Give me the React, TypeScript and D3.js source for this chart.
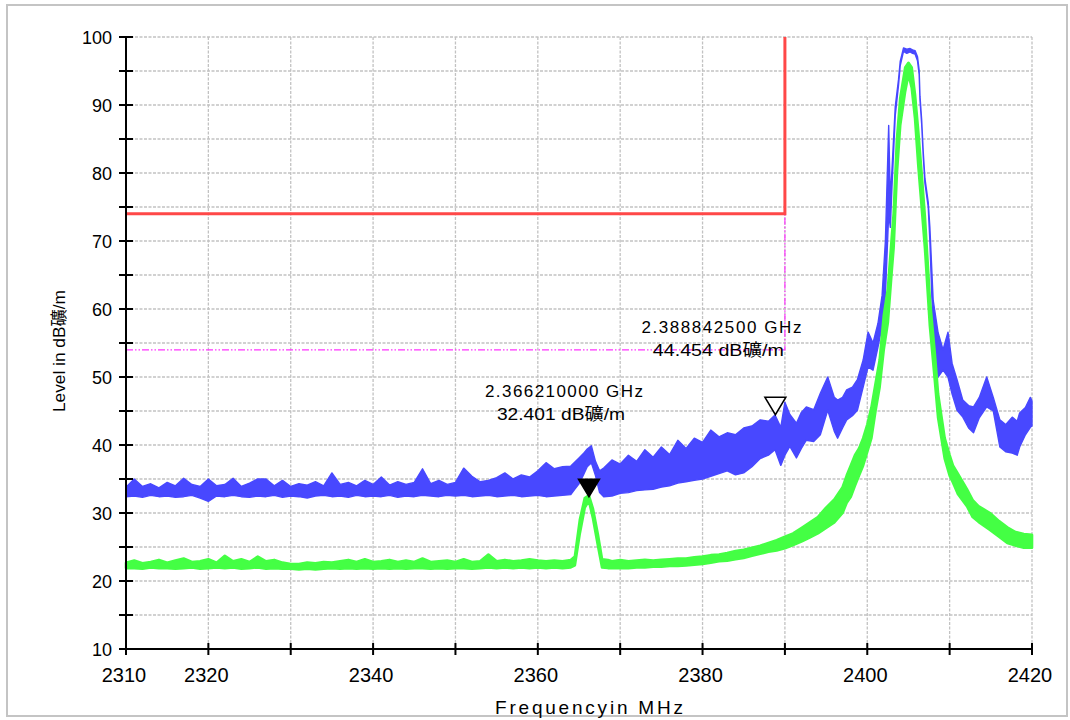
import React from "react";
import * as d3 from "d3";

// ---- data ----
const xDomain = [2310, 2420];
const yDomain = [10, 100];
const xTicks = [2310, 2320, 2330, 2340, 2350, 2360, 2370, 2380, 2390, 2400, 2410, 2420];
const xTickLabels = [2310, 2320, 2340, 2360, 2380, 2400, 2420];
const yTicks = [10, 15, 20, 25, 30, 35, 40, 45, 50, 55, 60, 65, 70, 75, 80, 85, 90, 95, 100];
const yTickLabels = [10, 20, 30, 40, 50, 60, 70, 80, 90, 100];

// limit line (red) and display line (magenta): [freq MHz, level]
const limitLine: [number, number][] = [[2310, 74], [2390, 74], [2390, 100]];
const displayLine: [number, number][] = [[2310, 54], [2390, 54], [2390, 74]];

// markers: [freq MHz, level, filled]
const markers: { f: number; v: number; filled: boolean; l1: string; l2: string }[] = [
  { f: 2366.21, v: 32.401, filled: true, l1: "2.366210000 GHz", l2: "32.401 dB礦/m" },
  { f: 2388.8425, v: 44.454, filled: false, l1: "2.388842500 GHz", l2: "44.454 dB礦/m" },
];

// peak trace (blue): [freq MHz, low, high] of the noise band
const blueTrace: [number, number, number][] = [
  [2310, 32.4, 33.8], [2311, 32.5, 35.0], [2312, 32.3, 33.9], [2313, 32.6, 34.3], [2314, 32.4, 33.7],
  [2315, 32.5, 34.5], [2316, 32.3, 34.0], [2317, 32.4, 35.1], [2318, 32.6, 34.2], [2319, 32.2, 33.9],
  [2320, 31.7, 35.0], [2321, 32.5, 34.0], [2322, 32.4, 34.2], [2323, 32.6, 35.1], [2324, 32.4, 33.9],
  [2325, 32.3, 34.4], [2326, 32.5, 35.0], [2327, 32.4, 35.0], [2328, 32.6, 34.0], [2329, 32.3, 34.8],
  [2330, 32.5, 33.9], [2331, 32.4, 34.3], [2332, 32.2, 34.1], [2333, 32.5, 34.6], [2334, 32.6, 34.0],
  [2335, 32.4, 35.9], [2336, 32.5, 34.2], [2337, 32.3, 34.5], [2338, 32.6, 34.0], [2339, 32.4, 34.8],
  [2340, 32.5, 34.2], [2341, 32.4, 35.3], [2342, 32.6, 34.1], [2343, 32.3, 34.6], [2344, 32.5, 34.2],
  [2345, 32.4, 34.5], [2346, 32.6, 36.5], [2347, 32.5, 34.3], [2348, 32.4, 34.8], [2349, 32.6, 34.2],
  [2350, 32.5, 34.5], [2351, 32.6, 36.6], [2352, 32.4, 35.4], [2353, 32.5, 34.6], [2354, 32.6, 34.8],
  [2355, 32.4, 35.2], [2356, 32.5, 35.9], [2357, 32.6, 35.0], [2358, 32.4, 35.6], [2359, 32.5, 35.3],
  [2360, 32.6, 36.2], [2361, 32.4, 37.4], [2362, 32.5, 36.5], [2363, 32.6, 36.8], [2364, 32.7, 36.9],
  [2364.5, 33.5, 37.5], [2365, 34.3, 38.1], [2365.5, 35.5, 38.7], [2366, 36.8, 39.4], [2366.5, 37.4, 39.9],
  [2367, 35.5, 37.6], [2367.5, 33.0, 36.2], [2368, 32.4, 36.6], [2369, 32.5, 37.8], [2370, 32.9, 37.2],
  [2371, 33.0, 38.5], [2372, 33.3, 37.6], [2373, 33.4, 39.3], [2374, 33.5, 38.2], [2375, 33.8, 39.7],
  [2376, 34.0, 38.6], [2377, 34.4, 40.7], [2378, 34.6, 39.5], [2379, 34.8, 41.0], [2380, 35.0, 40.4],
  [2381, 35.4, 42.2], [2382, 35.8, 41.2], [2383, 36.2, 41.8], [2384, 35.6, 41.5], [2385, 35.9, 42.5],
  [2386, 36.8, 42.8], [2387, 38.0, 43.7], [2388, 38.5, 43.5], [2388.8, 39.3, 44.4], [2389.5, 37.0, 42.6],
  [2390, 38.5, 46.3], [2390.6, 39.8, 44.5], [2391.4, 38.1, 43.2], [2392, 39.5, 44.8], [2392.6, 40.7, 45.6],
  [2393.5, 40.5, 45.2], [2394.3, 41.5, 47.6], [2395.2, 45.1, 50.0], [2396, 42.0, 47.0], [2396.4, 41.0, 46.6],
  [2397, 42.5, 47.0], [2397.5, 43.7, 48.1], [2398.2, 44.3, 48.5], [2398.8, 45.1, 49.6], [2399.5, 48.5, 52.5],
  [2400.1, 51.5, 56.6], [2400.7, 51.0, 55.0], [2401.3, 54.4, 57.9], [2401.8, 57.5, 62.0], [2402.2, 62.0, 70.0],
  [2402.6, 74.0, 87.0], [2402.8, 72.0, 76.0], [2403.0, 78.0, 80.5], [2403.4, 88.5, 89.8], [2403.8, 93.0, 93.8],
  [2404.0, 95.8, 96.4], [2404.4, 97.9, 98.4], [2404.8, 97.6, 98.2], [2405.2, 97.8, 98.3], [2405.5, 97.6, 98.1],
  [2405.8, 97.5, 98.0], [2406.1, 96.5, 97.1], [2406.3, 94.5, 95.1], [2406.4, 90.7, 91.3], [2406.6, 87.3, 87.9],
  [2406.8, 82.4, 83.0], [2407.0, 78.5, 79.2], [2407.4, 75.0, 75.7], [2407.6, 70.0, 72.0], [2408.0, 56.5, 61.3],
  [2408.6, 50.0, 56.5], [2409.2, 51.0, 54.0], [2409.8, 50.0, 56.6], [2410.3, 47.5, 52.0], [2410.9, 45.1, 49.6],
  [2411.6, 44.1, 46.6], [2412.3, 42.5, 45.8], [2412.9, 41.8, 45.6], [2413.6, 44.0, 47.0], [2414.5, 45.6, 50.0],
  [2415.3, 45.0, 47.0], [2416.1, 39.7, 43.7], [2416.8, 39.0, 43.0], [2417.6, 38.8, 44.1], [2418.2, 38.5, 43.5],
  [2418.5, 39.7, 44.7], [2419.2, 41.5, 45.5], [2419.8, 42.6, 47.0], [2420, 42.8, 46.5],
];

// average trace (green): [freq MHz, low, high]
const greenTrace: [number, number, number][] = [
  [2310, 21.9, 22.7], [2311, 21.9, 23.0], [2312, 21.8, 22.6], [2313, 22.0, 22.8], [2314, 21.9, 23.1],
  [2315, 21.9, 22.7], [2316, 21.8, 23.0], [2317, 21.9, 23.3], [2318, 22.0, 22.8], [2319, 21.8, 22.9],
  [2320, 21.9, 23.2], [2321, 22.0, 22.7], [2322, 21.9, 23.7], [2323, 22.0, 22.9], [2324, 21.8, 23.2],
  [2325, 21.9, 22.8], [2326, 22.0, 23.6], [2327, 21.8, 22.9], [2328, 21.9, 23.1], [2329, 21.8, 22.7],
  [2330, 21.8, 22.5], [2331, 21.7, 22.5], [2332, 21.8, 22.7], [2333, 21.7, 22.6], [2334, 21.8, 22.8],
  [2335, 21.9, 22.7], [2336, 21.8, 22.9], [2337, 21.9, 23.1], [2338, 21.8, 22.8], [2339, 21.9, 23.2],
  [2340, 21.8, 22.8], [2341, 21.9, 22.9], [2342, 21.8, 23.1], [2343, 21.9, 22.8], [2344, 21.8, 23.0],
  [2345, 21.9, 22.8], [2346, 21.9, 23.3], [2347, 21.8, 22.8], [2348, 21.9, 22.9], [2349, 21.8, 23.0],
  [2350, 21.9, 22.8], [2351, 21.9, 23.2], [2352, 21.8, 22.8], [2353, 21.9, 22.9], [2354, 22.0, 23.9],
  [2355, 21.9, 22.9], [2356, 22.0, 23.1], [2357, 21.9, 22.9], [2358, 22.0, 23.0], [2359, 21.9, 23.2],
  [2360, 22.0, 23.0], [2361, 21.9, 22.9], [2362, 22.0, 23.0], [2363, 21.9, 22.9], [2364, 22.0, 23.1],
  [2364.5, 22.3, 23.6], [2365.1, 27.0, 29.0], [2365.7, 30.8, 32.2], [2366.2, 31.8, 32.6], [2366.7, 29.2, 30.6],
  [2367.3, 25.2, 26.8], [2367.8, 22.0, 23.2], [2368.5, 21.9, 23.1], [2369, 21.9, 22.9], [2370, 21.9, 23.1],
  [2371, 21.9, 22.9], [2372, 22.0, 23.0], [2373, 22.0, 23.1], [2374, 22.1, 23.0], [2375, 22.1, 23.1],
  [2376, 22.2, 23.2], [2377, 22.2, 23.3], [2378, 22.3, 23.3], [2379, 22.4, 23.5], [2380, 22.5, 23.6],
  [2381, 22.7, 23.8], [2382, 22.9, 23.9], [2383, 23.0, 24.1], [2384, 23.2, 24.4], [2385, 23.4, 24.6],
  [2386, 23.7, 24.9], [2387, 24.0, 25.2], [2388, 24.3, 25.6], [2389, 24.5, 26.0], [2390, 24.8, 26.5],
  [2391, 25.3, 27.0], [2392, 25.8, 27.8], [2393, 26.4, 28.6], [2394, 27.0, 29.4], [2395, 27.8, 30.8],
  [2396, 28.6, 32.0], [2397, 30.0, 33.8], [2397.5, 31.5, 35.5], [2398, 32.4, 37.0], [2398.5, 34.0, 38.5],
  [2399, 35.5, 39.5], [2399.5, 37.0, 41.0], [2400, 39.0, 43.0], [2400.5, 41.0, 45.5], [2401, 45.0, 49.0],
  [2401.5, 48.5, 52.5], [2402, 54.0, 59.0], [2402.5, 58.0, 63.0], [2403, 66.0, 71.0], [2403.2, 69.0, 74.0],
  [2403.6, 80.0, 85.0], [2404, 87.0, 91.0], [2404.6, 92.0, 95.5], [2405, 94.5, 96.2], [2405.4, 92.5, 95.5],
  [2405.8, 88.0, 91.5], [2406.2, 81.0, 86.0], [2406.6, 75.0, 80.0], [2407, 69.0, 73.5], [2407.6, 57.5, 61.5],
  [2408.2, 49.5, 53.5], [2408.6, 44.0, 47.5], [2409.4, 38.0, 41.0], [2410, 35.5, 38.5], [2410.4, 34.5, 37.0],
  [2411, 32.8, 35.8], [2412.1, 31.0, 33.5], [2412.8, 29.4, 31.9], [2413.5, 28.7, 31.0], [2414.9, 27.5, 30.0],
  [2416, 26.5, 28.8], [2417, 25.6, 27.9], [2418, 25.2, 27.2], [2419, 24.9, 26.9], [2420, 24.9, 26.8],
];

const FONT = "'Liberation Sans', Arial, 'Noto Sans CJK KR', sans-serif";

export default function App() {
  const W = 1070, H = 720;
  const x = d3.scaleLinear().domain(xDomain).range([126, 1032]);
  const y = d3.scaleLinear().domain(yDomain).range([649, 37]);

  const band = d3
    .area<[number, number, number]>()
    .x((d) => x(d[0]))
    .y0((d) => y(d[1]))
    .y1((d) => y(d[2]));
  const line = d3
    .line<[number, number]>()
    .x((d) => x(d[0]))
    .y((d) => y(d[1]));

  const [x0, x1] = x.range();
  const [yb, yt] = y.range();

  return (
    <svg width={W} height={H} style={{ position: "absolute", left: 0, top: 0, background: "#fff" }} fontFamily={FONT}>
      <rect x={7} y={5} width={1060} height={711} fill="#fff" stroke="#c4c4c4" strokeWidth={2} />

      {/* grid */}
      <g stroke="#c2c2c2" strokeWidth={1.3} strokeDasharray="3,1.5">
        {xTicks.slice(1).map((t) => (
          <line key={"gx" + t} x1={x(t)} x2={x(t)} y1={yt} y2={yb} />
        ))}
        {yTicks.slice(1).map((t) => (
          <line key={"gy" + t} x1={x0} x2={x1} y1={y(t)} y2={y(t)} />
        ))}
      </g>

      {/* limit + display lines */}
      <path d={line(displayLine) || ""} fill="none" stroke="#ff33ff" strokeWidth={1.2} strokeDasharray="7,2,1.5,2,1.5,2" />
      <path d={line(limitLine) || ""} fill="none" stroke="#ff4848" strokeWidth={3} />

      {/* traces */}
      <path d={band(blueTrace) || ""} fill="#4848ff" stroke="#4848ff" strokeWidth={1.4} strokeLinejoin="round" />
      <path d={band(greenTrace) || ""} fill="#44ff44" stroke="#44ff44" strokeWidth={2.6} strokeLinejoin="round" />

      {/* markers */}
      {markers.map((m) => {
        const px = x(m.f), py = y(m.v);
        const pts = `${px - 10.5},${py - 17.5} ${px + 10.5},${py - 17.5} ${px},${py}`;
        return (
          <polygon key={"m" + m.f} points={pts} fill={m.filled ? "#000" : "#fff"} stroke="#000" strokeWidth={1.5} strokeLinejoin="miter" />
        );
      })}
      {markers.map((m, i) => {
        const px = x(m.f), py = y(m.v);
        const cx = i === 0 ? px - 25 : px - 54;
        return (
          <g key={"t" + m.f} fontSize={17} fill="#000">
            <text x={cx} y={py - 100 + (i === 0 ? 0 : 18)} textAnchor="middle" textLength={i === 0 ? 158 : 160} lengthAdjust="spacing">
              {m.l1}
            </text>
            <text x={cx - 3} y={py - 77 + (i === 0 ? 0 : 18)} textAnchor="middle" textLength={i === 0 ? 128 : 131} lengthAdjust="spacingAndGlyphs">
              {m.l2}
            </text>
          </g>
        );
      })}

      {/* axes */}
      <line x1={x0} x2={x0} y1={yt} y2={yb + 1} stroke="#000" strokeWidth={2} />
      <line x1={x0 - 1} x2={x1} y1={yb} y2={yb} stroke="#000" strokeWidth={2} />
      {yTicks.map((t) => (
        <line key={"ty" + t} x1={x0 - 7} x2={x0 + 7} y1={y(t)} y2={y(t)} stroke="#000" strokeWidth={2} />
      ))}
      {xTicks.map((t) => (
        <line key={"tx" + t} x1={x(t)} x2={x(t)} y1={yb - 6} y2={yb + 6} stroke="#000" strokeWidth={2} />
      ))}
      {yTickLabels.map((t) => (
        <text key={"ly" + t} x={112} y={y(t) + 6.5} textAnchor="end" fontSize={18}>
          {t}
        </text>
      ))}
      {xTickLabels.map((t) => (
        <text key={"lx" + t} x={x(t) - 2} y={682} textAnchor="middle" fontSize={20}>
          {t}
        </text>
      ))}

      {/* axis titles */}
      <text x={495} y={714} fontSize={19} textLength={188} lengthAdjust="spacing">
        Frequencyin MHz
      </text>
      <text transform="translate(65,351) rotate(-90)" textAnchor="middle" fontSize={17} textLength={122} lengthAdjust="spacingAndGlyphs">
        Level in dB礦/m
      </text>
    </svg>
  );
}
